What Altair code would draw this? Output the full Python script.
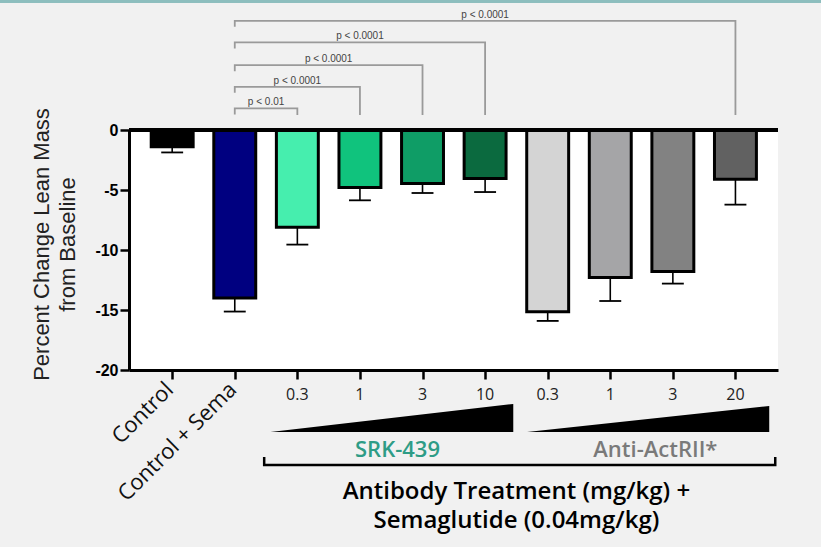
import altair as alt
import pandas as pd

# ---------------- data ----------------
groups = ["Control", "Control + Sema", "SRK 0.3", "SRK 1", "SRK 3", "SRK 10",
          "Anti 0.3", "Anti 1", "Anti 3", "Anti 20"]
tick_labels = ["Control", "Control + Sema", "0.3", "1", "3", "10", "0.3", "1", "3", "20"]
means = [-1.4, -14.0, -8.1, -4.8, -4.45, -4.05, -15.15, -12.3, -11.8, -4.1]
sems = [0.47, 1.13, 1.45, 1.06, 0.8, 1.12, 0.76, 1.95, 1.0, 2.12]
bar_colors = ["#000000", "#000080", "#46EEAE", "#10C37D", "#0F9D66", "#0B6A3F",
              "#D4D4D4", "#A5A5A7", "#828282", "#616161"]

reference_group = 1                      # Control + Sema
bracket_targets = [2, 3, 4, 5, 9]
p_labels = ["p < 0.01", "p < 0.0001", "p < 0.0001", "p < 0.0001", "p < 0.0001"]
bracket_levels = [1.8, 3.6, 5.4, 7.3, 9.1]

antibodies = ["SRK-439", "Anti-ActRII*"]
antibody_colors = ["#2E9C86", "#7A7A7A"]
antibody_label_x = [3.6, 7.72]
wedge_start = [1.57, 5.67]
wedge_end = [5.45, 9.54]
wedge_top = [-22.83, -23.0]
x_title = "Antibody Treatment (mg/kg) +\nSemaglutide (0.04mg/kg)"
y_title = ["Percent Change Lean Mass", "from Baseline"]

# ---------------- tables ----------------
half = 0.335
cap = 0.175
bars = pd.DataFrame({
    "group": groups,
    "x": list(range(len(groups))),
    "xlo": [i - half for i in range(len(groups))],
    "xhi": [i + half for i in range(len(groups))],
    "mean": means,
    "low": [m - s for m, s in zip(means, sems)],
    "caplo": [i - cap for i in range(len(groups))],
    "caphi": [i + cap for i in range(len(groups))],
    "color": bar_colors,
})

br_rows = []
for k, (t, lev) in enumerate(zip(bracket_targets, bracket_levels)):
    pts = [(reference_group, lev - 0.5), (reference_group, lev), (t, lev), (t, 1.25)]
    for s, (px, py) in enumerate(pts):
        br_rows.append({"b": k, "s": s, "x": px, "y": py})
brackets = pd.DataFrame(br_rows)
plab = pd.DataFrame({
    "x": [(reference_group + t) / 2 for t in bracket_targets],
    "y": bracket_levels,
    "text": p_labels,
})

wedges = pd.DataFrame([
    {"g": g, "x": x, "y": yv, "y2": -25.17}
    for g, a, b, top in zip(antibodies, wedge_start, wedge_end, wedge_top)
    for x, yv in ((a, -25.17), (b, top))
])
grp_line = pd.DataFrame({"s": [0, 1, 2, 3], "x": [1.47, 1.47, 9.636, 9.636],
                         "y": [-27.25, -27.92, -27.92, -27.25]})
grp_text = pd.DataFrame({"x": antibody_label_x, "y": [-26.67, -26.67],
                         "text": antibodies, "color": antibody_colors})
rot_labels = pd.DataFrame({"x": [-0.04, 0.97], "y": [-21.35, -21.35], "text": tick_labels[:2]})
num_labels = pd.DataFrame({"x": list(range(2, 10)), "y": [-22.08] * 8, "text": tick_labels[2:]})
title_df = pd.DataFrame({"x": [5.5], "y": [-30.15], "text": [x_title]})

# ---------------- scales / encodings ----------------
xscale = alt.Scale(domain=[-0.69, 9.68], nice=False, zero=False)
yscale = alt.Scale(domain=[-20, 0], nice=False, zero=False)
xaxis = alt.Axis(values=list(range(10)), labels=False, title=None, grid=False,
                 domainColor="black", domainWidth=3, tickColor="black",
                 tickWidth=2.5, tickSize=9)
yaxis = alt.Axis(values=[0, -5, -10, -15, -20], title=y_title, grid=False,
                 labelExpr="toString(datum.value)",
                 domainColor="black", domainWidth=3, tickColor="black",
                 tickWidth=2.5, tickSize=9, labelFont="Liberation Sans",
                 labelFontWeight="bold", labelFontSize=16, labelColor="black",
                 labelPadding=2, titleFont="Liberation Sans", titleFontSize=22,
                 titleFontWeight="normal", titleColor="#222", titleLineHeight=26,
                 titleAngle=270, titleX=-88, titleY=114, titleAlign="center",
                 titleBaseline="middle")


def X(f):
    return alt.X(f, type="quantitative", scale=xscale, axis=xaxis)


def Y(f):
    return alt.Y(f, type="quantitative", scale=yscale, axis=yaxis)


base = alt.Chart(bars)
bar_layer = base.mark_bar(stroke="black", strokeWidth=3).encode(
    x=X("xlo"), x2="xhi", y=Y("mean"), y2=alt.datum(0),
    fill=alt.Fill("color:N", scale=None))
err = base.mark_rule(color="black", strokeWidth=1.6).encode(
    x=X("x"), y=Y("mean"), y2="low")
caps = base.mark_rule(color="black", strokeWidth=1.8).encode(
    x=X("caplo"), x2="caphi", y=Y("low"))
zero = base.mark_rule(color="black", strokeWidth=3).encode(y=alt.datum(0))

br = alt.Chart(brackets).mark_line(color="#9a9a9a", strokeWidth=1.8).encode(
    x=X("x"), y=Y("y"), detail="b:N", order="s:Q")
brt = alt.Chart(plab).mark_text(font="Liberation Sans", fontSize=10, color="#444",
                                baseline="alphabetic", dy=-3).encode(
    x=X("x"), y=Y("y"), text="text:N")

wedge = alt.Chart(wedges).mark_area(color="black", opacity=1).encode(
    x=X("x"), y=Y("y"), y2="y2", detail="g:N")
gline = alt.Chart(grp_line).mark_line(color="black", strokeWidth=2.5).encode(
    x=X("x"), y=Y("y"), order="s:Q")
gtext = alt.Chart(grp_text).mark_text(font="Open Sans", fontSize=22, fontWeight=600,
                                      baseline="middle").encode(
    x=X("x"), y=Y("y"), text="text:N", color=alt.Color("color:N", scale=None))
rot = alt.Chart(rot_labels).mark_text(font="Open Sans", fontSize=22, angle=315,
                                      align="right", baseline="middle", color="#111").encode(
    x=X("x"), y=Y("y"), text="text:N")
nums = alt.Chart(num_labels).mark_text(font="Open Sans", fontSize=16, baseline="middle",
                                       color="#222").encode(
    x=X("x"), y=Y("y"), text="text:N")
title = alt.Chart(title_df).mark_text(font="Open Sans", fontSize=24, fontWeight=600,
                                      baseline="middle", color="black",
                                      lineBreak="\n", lineHeight=29.5).encode(
    x=X("x"), y=Y("y"), text="text:N")
topline = base.mark_rule(color="#8DBEBE", strokeWidth=3).encode(
    x=alt.value(-129), x2=alt.value(821 - 129), y=alt.value(-129))

chart = alt.layer(
    bar_layer, err, caps, zero, br, brt, wedge, gline, gtext, rot, nums, title, topline
).properties(
    width=649, height=240,
    autosize=alt.AutoSizeParams(type="none"),
    padding={"left": 129, "top": 130, "right": 43, "bottom": 177},
    background="#f1f1f1",
).configure_view(fill="white", stroke=None)

chart.save("out.html", embed_options={"renderer": "svg", "actions": False})
